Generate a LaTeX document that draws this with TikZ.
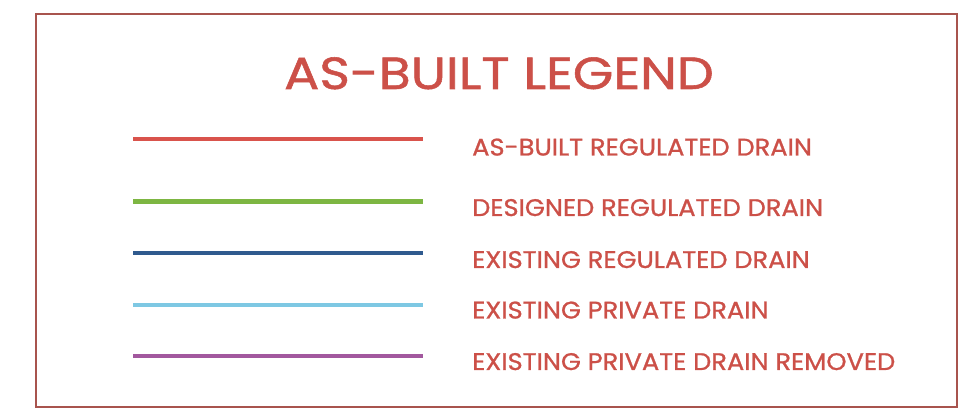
\documentclass[tikz,border=0pt]{standalone}
\usepackage{fontspec}
\setmainfont{Poppins}
\newfontfamily\titlefont[FakeBold=1.2,FakeStretch=1.16]{Poppins}
\newfontfamily\itemfont[FakeBold=1.0,FakeStretch=1.07]{Poppins}
\definecolor{bordercol}{HTML}{A8544E}
\definecolor{textcol}{HTML}{CC5048}
\definecolor{lred}{HTML}{D9534C}
\definecolor{lgreen}{HTML}{7DB642}
\definecolor{lblue}{HTML}{2F5A8E}
\definecolor{lcyan}{HTML}{7EC8E3}
\definecolor{lpurple}{HTML}{A2589E}
\tikzset{
  legline/.style={line width=4.5pt},
  legtext/.style={anchor=base west, inner sep=0pt, text=textcol, font=\itemfont\fontsize{24}{26}\selectfont},
  title/.style={anchor=base, inner sep=0pt, text=textcol, font=\titlefont\fontsize{45}{48}\selectfont}
}
\begin{document}
\begin{tikzpicture}[x=1pt,y=-1pt]
\useasboundingbox (0,0) rectangle (966,411);
\fill[white] (0,0) rectangle (966,411);
\draw[bordercol, line width=2pt] (36,14) rectangle (957,407);
\node[title] (ttl) at (499,89) {AS-BUILT LEGEND};
\draw[legline, lred]    (133,139) -- (423,139);
\draw[legline, lgreen]  (133,201.5) -- (423,201.5);
\draw[legline, lblue]   (133,253) -- (423,253);
\draw[legline, lcyan]   (133,305) -- (423,305);
\draw[legline, lpurple] (133,356) -- (423,356);
\node[legtext] (t1) at (472,155.5) {AS-BUILT REGULATED DRAIN};
\node[legtext] (t2) at (472,216) {DESIGNED REGULATED DRAIN};
\node[legtext] (t3) at (472,268) {EXISTING REGULATED DRAIN};
\node[legtext] (t4) at (472,318.5) {EXISTING PRIVATE DRAIN};
\node[legtext] (t5) at (472,370) {EXISTING PRIVATE DRAIN REMOVED};
\end{tikzpicture}
\end{document}
